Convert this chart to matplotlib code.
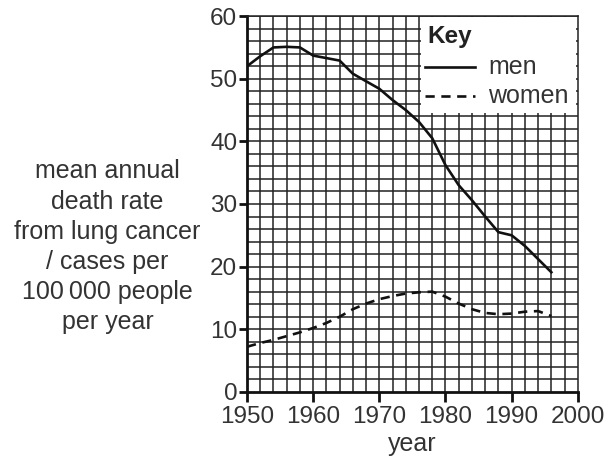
import matplotlib.pyplot as plt
from matplotlib.patches import Rectangle
from matplotlib.lines import Line2D

plt.rcParams['font.family'] = ['Liberation Sans', 'DejaVu Sans']

# data
men_year = [1950, 1952, 1954, 1956, 1958, 1960, 1962, 1964, 1966, 1968, 1970,
            1972, 1974, 1976, 1978, 1980, 1982, 1984, 1986, 1988, 1990, 1992,
            1994, 1996]
men_rate = [52.0, 53.6, 55.0, 55.1, 55.0, 53.7, 53.3, 52.9, 50.8, 49.6, 48.4,
            46.6, 45.0, 43.1, 40.5, 36.2, 33.0, 30.6, 28.0, 25.5, 25.0, 23.3,
            21.2, 19.1]
women_year = [1950, 1952, 1954, 1956, 1958, 1960, 1962, 1964, 1966, 1968, 1970,
              1972, 1974, 1976, 1978, 1980, 1982, 1984, 1986, 1988, 1990, 1992,
              1994, 1996]
women_rate = [7.2, 7.8, 8.3, 8.9, 9.5, 10.2, 11.0, 12.0, 13.2, 14.1, 14.8,
              15.3, 15.7, 15.9, 16.0, 15.2, 14.1, 13.2, 12.6, 12.4, 12.5, 12.8,
              12.9, 12.1]

xticks = [1950, 1960, 1970, 1980, 1990, 2000]
yticks = [0, 10, 20, 30, 40, 50, 60]

ylabel = 'mean annual\ndeath rate\nfrom lung cancer\n/ cases per\n100\u2009000 people\nper year'

fig = plt.figure(figsize=(6.16, 4.61), dpi=100)
ax = fig.add_axes([0.401, 0.150, 0.537, 0.815])

txt = '#333333'
ax.set_xlim(1950, 2000)
ax.set_ylim(0, 60)

# 2-unit grid on both axes
for gx in range(1952, 2000, 2):
    ax.axvline(gx, color='#222222', lw=1.1, zorder=1)
for gy in range(2, 61, 2):
    ax.axhline(gy, color='#222222', lw=1.1, zorder=1)

ax.plot(men_year, men_rate, color='#111111', lw=1.9, zorder=3)
ax.plot(women_year, women_rate, color='#111111', lw=1.9, ls=(0, (3.5, 2.5)), zorder=3)

# key box
ax.add_patch(Rectangle((1976.3, 44.5), 23.5, 15.3, facecolor='white',
                       edgecolor='none', zorder=4))
ax.text(1977.3, 56.7, 'Key', fontsize=17.5, fontweight='bold', color='#222222',
        va='center', ha='left', zorder=5)
ax.add_line(Line2D([1976.9, 1984.4], [51.9, 51.9], color='#111111', lw=1.9, zorder=5))
ax.add_line(Line2D([1976.9, 1984.4], [47.3, 47.3], color='#111111', lw=1.9,
                   ls=(0, (3.5, 2.5)), zorder=5))
ax.text(1986.5, 51.8, 'men', fontsize=18, color=txt, va='center', ha='left', zorder=5)
ax.text(1986.5, 47.3, 'women', fontsize=18, color=txt, va='center', ha='left', zorder=5)

ax.set_xticks(xticks)
ax.set_yticks(yticks)
ax.tick_params(direction='out', width=2, labelsize=17.5,
               labelcolor=txt, color='#111111')
ax.tick_params(axis='y', length=6, pad=1)
ax.tick_params(axis='x', length=7, pad=3)
for s in ax.spines.values():
    s.set_linewidth(1.1)
    s.set_color('#222222')
for s in ['left', 'bottom']:
    ax.spines[s].set_linewidth(2)
    ax.spines[s].set_color('#111111')

ax.set_xlabel('year', fontsize=18, color=txt, labelpad=3)
fig.text(0.1745, 0.465, ylabel, fontsize=18, color=txt, ha='center', va='center',
         linespacing=1.32)

fig.savefig('out.png', dpi=100)
